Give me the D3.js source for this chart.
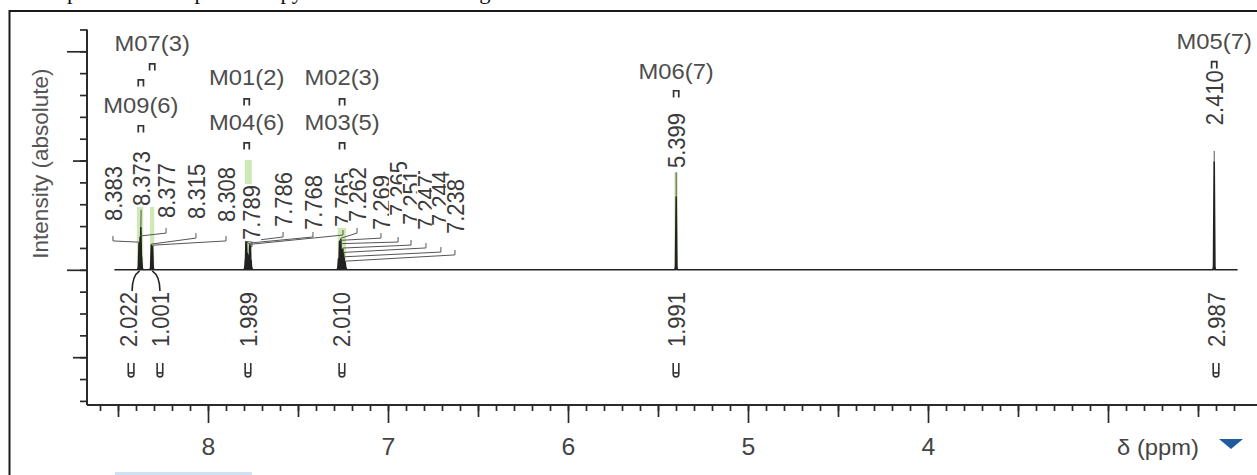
<!DOCTYPE html>
<html>
<head>
<meta charset="utf-8">
<script src="https://cdn.jsdelivr.net/npm/d3@7"></script>
<style>
  html, body { margin: 0; padding: 0; background: #fff; overflow: hidden; }
  svg { display: block; }
</style>
</head>
<body>
<svg id="chart" width="1257" height="475"></svg>
<script>
// ---------------- spectrum data ----------------
// chemical shift window of the recorded trace (ppm)
const spectrumStart = 8.52;
const spectrumEnd = 2.28;

// every resolved line of the spectrum (ppm) and its intensity (absolute units)
const peakPpm = [8.383, 8.380, 8.377, 8.373, 8.369,
                 8.315, 8.312, 8.308,
                 7.792, 7.789, 7.786, 7.782, 7.772, 7.768, 7.765, 7.761,
                 7.275, 7.269, 7.265, 7.262, 7.258, 7.255, 7.251, 7.247, 7.244, 7.238,
                 5.399,
                 2.410];
const peakHeight = [1.22, 0.90, 1.50, 1.95, 0.60,
                    1.13, 0.70, 1.08,
                    0.50, 1.30, 1.25, 0.75, 0.70, 1.18, 1.12, 0.45,
                    0.50, 1.30, 1.15, 1.40, 0.90, 0.80, 0.95, 0.75, 0.55, 0.35,
                    3.34,
                    4.94];

// lines that carry a shift label, in drawing order
const labelPpm = [8.383, 8.373, 8.377, 8.315, 8.308,
                  7.789, 7.786, 7.768, 7.765,
                  7.262, 7.269, 7.265, 7.251, 7.247, 7.244, 7.238,
                  5.399, 2.410];

// multiplets
const multipletNames = ["M07(3)", "M09(6)", "M01(2)", "M04(6)", "M02(3)", "M03(5)", "M06(7)", "M05(7)"];
const multipletPpm   = [8.310, 8.373, 7.785, 7.785, 7.255, 7.255, 5.399, 2.410];

// highlighted multiplet ranges (ppm)
const rangeFrom = [8.395, 8.322, 7.795, 7.279, 5.409];
const rangeTo   = [8.360, 8.299, 7.757, 7.233, 5.390];

// integrals
const integralValues = [2.022, 1.001, 1.989, 2.010, 1.991, 2.987];
const integralFrom   = [8.400, 8.330, 7.800, 7.280, 5.420, 2.430];
const integralTo     = [8.360, 8.290, 7.750, 7.230, 5.380, 2.390];

// axis tick labels
const xTickLabels = [8, 7, 6, 5, 4];
const yMajorTicks = [0, 10];
const yMediumTicks = [5, -4];

// ---------------- layout (axis units) ----------------
// where each shift label sits: column (ppm), foot of the text and elbow of its leader (intensity)
const labelAnchor = [8.528, 8.372, 8.233, 8.067, 7.900,
                     7.756, 7.583, 7.417, 7.250,
                     7.172, 7.039, 6.944, 6.872, 6.789, 6.706, 6.628,
                     5.399, 2.410];
const labelFoot = [2.23, 2.92, 2.37, 2.33, 2.19,
                   1.36, 1.96, 1.82, 1.96,
                   2.19, 1.82, 2.46, 2.05, 1.82, 2.00, 1.64,
                   4.66, 6.62];
const labelElbow = [1.55, 2.74, 1.91, 1.68, 1.55,
                    1.27, 1.73, 1.73, 1.82,
                    1.91, 1.68, 1.50, 1.36, 1.23, 1.04, 0.91,
                    4.47, 5.44];
// multiplet caption baselines and bracket markers
const multipletBaseline = [10.01, 7.18, 8.46, 6.40, 8.46, 6.40, 8.73, 10.10];
const multipletMarker   = [9.46, 6.63, 7.86, 5.85, 7.86, 5.85, 8.23, 9.56];
const extraMarkerPpm = [8.373];
const extraMarkerLevel = [8.73];
// top of each highlighted range
const rangeTop = [2.88, 2.88, 5.03, 3.42, 4.44];
// integral captions: column (ppm), top of text, bracket level
const integralAnchor = [8.444, 8.267, 7.778, 7.256, 5.400, 2.400];
const integralTextTop = -1.02;
const integralMarkerLevel = -4.26;

// ---------------- scales ----------------
const x = d3.scaleLinear().domain([8, 3]).range([208, 1108]);
const y = d3.scaleLinear().domain([0, 10]).range([269.8, 51.3]);

const xLeft = 87, xRight = 1257;
const axisY = 405;
const SANS = "'Liberation Sans', Arial, Helvetica, sans-serif";
const STRETCH = 1.08;

const svg = d3.select("#chart");

// caption line running above the panel (only its descenders reach into view)
svg.append("text")
  .attr("x", 27).attr("y", -1)
  .attr("font-family", "'Liberation Serif', 'Times New Roman', serif")
  .attr("font-size", 22.5)
  .attr("fill", "#111")
  .text("Sample \u00b9H NMR spectroscopy of the mixture using");

// panel frame
svg.append("rect")
  .attr("x", 9.5).attr("y", 11)
  .attr("width", 1400).attr("height", 600)
  .attr("fill", "none").attr("stroke", "#1a1a1a").attr("stroke-width", 2);

// ---------------- axes ----------------
const gx = svg.append("g").attr("transform", `translate(0,${axisY})`);
const tenths = d3.range(23, 87).map(i => i / 10);
const halves = d3.range(23, 87).filter(i => i % 5 === 0 && i % 10 !== 0).map(i => i / 10);
const wholes = d3.range(3, 9);

function styleAxis(g) {
  g.select(".domain").remove();
  g.selectAll(".tick line").attr("stroke", "#2a2a2a").attr("stroke-width", 1.7);
}
gx.append("g").call(d3.axisBottom(x).tickValues(tenths).tickSize(6).tickFormat("")).call(styleAxis);
gx.append("g").call(d3.axisBottom(x).tickValues(halves).tickSize(12).tickFormat("")).call(styleAxis);
gx.append("g")
  .call(d3.axisBottom(x).tickValues(wholes).tickSize(18)
        .tickFormat(d => xTickLabels.includes(d) ? d : ""))
  .call(styleAxis)
  .call(g => g.selectAll(".tick text")
    .attr("y", 50).attr("dy", 0)
    .attr("transform", `scale(${STRETCH},1)`)
    .attr("font-family", SANS).attr("font-size", 23).attr("fill", "#444"));
gx.append("line")
  .attr("x1", xLeft).attr("x2", xRight).attr("y1", 0).attr("y2", 0)
  .attr("stroke", "#2a2a2a").attr("stroke-width", 2);

const gy = svg.append("g").attr("transform", `translate(${xLeft},0)`);
const yUnits = d3.range(-6, 12);
gy.append("g").call(d3.axisLeft(y).tickValues(yUnits).tickSize(7).tickFormat("")).call(styleAxis);
gy.append("g").call(d3.axisLeft(y).tickValues(yMediumTicks).tickSize(14).tickFormat("")).call(styleAxis);
gy.append("g").call(d3.axisLeft(y).tickValues(yMajorTicks).tickSize(20).tickFormat("")).call(styleAxis);
gy.append("line")
  .attr("x1", 0).attr("x2", 0).attr("y1", y(11)).attr("y2", axisY)
  .attr("stroke", "#2a2a2a").attr("stroke-width", 2);

// axis titles
svg.append("text")
  .attr("transform", `translate(40,${y(4.86)}) rotate(-90)`)
  .attr("text-anchor", "middle").attr("dy", "0.35em")
  .attr("font-family", SANS).attr("font-size", 22.5).attr("fill", "#555")
  .text("Intensity (absolute)");

svg.append("text")
  .attr("transform", `translate(${x(3) + 50},455) scale(${STRETCH},1)`)
  .attr("text-anchor", "middle")
  .attr("font-family", SANS).attr("font-size", 22).attr("fill", "#444")
  .text("\u03b4 (ppm)");
svg.append("path")
  .attr("d", `M${x(3) + 111},439 L${x(3) + 135},439 L${x(3) + 123},449 Z`)
  .attr("fill", "#1f5c9e");

// ---------------- highlighted multiplet ranges ----------------
svg.append("g").selectAll("rect")
  .data(rangeFrom.map((f, i) => ({ f, t: rangeTo[i], top: rangeTop[i] })))
  .join("rect")
  .attr("x", d => x(d.f))
  .attr("width", d => x(d.t) - x(d.f))
  .attr("y", d => y(d.top))
  .attr("height", d => y(0) - y(d.top))
  .attr("fill", "#c6e5a6").attr("opacity", 0.85);

// ---------------- spectrum ----------------
const peaks = peakPpm.map((p, i) => ({ p, h: peakHeight[i] })).sort((a, b) => b.p - a.p);
const halfWidth = 0.004;
const trace = [[spectrumStart, 0]];
peaks.forEach(d => trace.push([d.p + halfWidth, 0], [d.p, d.h], [d.p - halfWidth, 0]));
trace.push([spectrumEnd, 0]);

const line = d3.line().x(d => x(d[0])).y(d => y(d[1]));

// broad foot of each line
svg.append("g").selectAll("path")
  .data(peaks)
  .join("path")
  .attr("d", d => line([[d.p + 0.013, 0], [d.p, 0.24], [d.p - 0.013, 0]]) + "Z")
  .attr("fill", "#1d2b86");

svg.append("path")
  .attr("d", line(trace))
  .attr("fill", "none")
  .attr("stroke", "#222")
  .attr("stroke-width", 1.6)
  .attr("stroke-linejoin", "round");

// ---------------- shift labels ----------------
const heightOf = p => peakHeight[peakPpm.indexOf(p)];
const fmt3 = d3.format(".3f");

const leaders = svg.append("g");
labelPpm.forEach((p, i) => {
  const lx = x(labelAnchor[i]);
  const ey = y(labelElbow[i]);
  leaders.append("path")
    .attr("d", `M${lx},${ey} V${ey + 5} L${x(p)},${y(heightOf(p)) - 1}`)
    .attr("fill", "none").attr("stroke", "#555").attr("stroke-width", 1);
});

const labels = svg.append("g");
labelPpm.forEach((p, i) => {
  const g = labels.append("g")
    .attr("transform", `translate(${x(labelAnchor[i])},${y(labelFoot[i])}) scale(${STRETCH},1) rotate(-90)`);
  const bg = g.append("rect").attr("fill", "#fff");
  const t = g.append("text")
    .attr("dy", "0.36em")
    .attr("font-family", SANS).attr("font-size", 22).attr("fill", "#3a3a3a")
    .text(fmt3(p));
  const len = t.node().getComputedTextLength();
  bg.attr("x", -1).attr("y", -8.5).attr("width", len + 2).attr("height", 17);
});

// ---------------- multiplet captions ----------------
const bracket = "M-2.6,7.5V0.8H2.6V7.5";
svg.append("g").selectAll("text")
  .data(multipletNames)
  .join("text")
  .attr("transform", (d, i) => `translate(${x(multipletPpm[i])},${y(multipletBaseline[i])}) scale(${STRETCH},1)`)
  .attr("text-anchor", "middle")
  .attr("font-family", SANS).attr("font-size", 22).attr("fill", "#4d4d4d")
  .text(d => d);

const markerData = multipletPpm.map((p, i) => ({ p, v: multipletMarker[i] }))
  .concat(extraMarkerPpm.map((p, i) => ({ p, v: extraMarkerLevel[i] })));
svg.append("g").selectAll("path")
  .data(markerData)
  .join("path")
  .attr("transform", d => `translate(${x(d.p)},${y(d.v)})`)
  .attr("d", bracket)
  .attr("fill", "none").attr("stroke", "#333").attr("stroke-width", 1.7);

// ---------------- integrals ----------------
const integralG = svg.append("g");
integralValues.forEach((v, i) => {
  const ax = x(integralAnchor[i]);
  const cx = x((integralFrom[i] + integralTo[i]) / 2);
  const topY = y(integralTextTop);
  if (Math.abs(ax - cx) > 3) {
    const sx = ax + (cx > ax ? 4 : 0);
    integralG.append("path")
      .attr("d", `M${sx},${topY - 1} Q${sx},${y(0) + 6} ${cx},${y(0) + 1}`)
      .attr("fill", "none").attr("stroke", "#222").attr("stroke-width", 1.6);
  }
  integralG.append("text")
    .attr("transform", `translate(${ax},${topY}) scale(${STRETCH},1) rotate(-90)`)
    .attr("text-anchor", "end").attr("dy", "0.36em")
    .attr("font-family", SANS).attr("font-size", 22).attr("fill", "#3a3a3a")
    .text(fmt3(v));
  const m = integralG.append("g")
    .attr("transform", `translate(${x(integralAnchor[i]) + (i === 0 ? 3 : 0)},${y(integralMarkerLevel)})`);
  m.append("path")
    .attr("d", "M-2.8,0V11Q-2.8,14 0,14Q2.8,14 2.8,11V0")
    .attr("fill", "none").attr("stroke", "#333").attr("stroke-width", 1.6);
  m.append("path")
    .attr("d", "M-2.8,10H2.8")
    .attr("stroke", "#333").attr("stroke-width", 1.6);
});

// strip along the lower edge
svg.append("rect")
  .attr("x", 115).attr("y", 472).attr("width", 137).attr("height", 3)
  .attr("fill", "#cfe2f3");
</script>
</body>
</html>
